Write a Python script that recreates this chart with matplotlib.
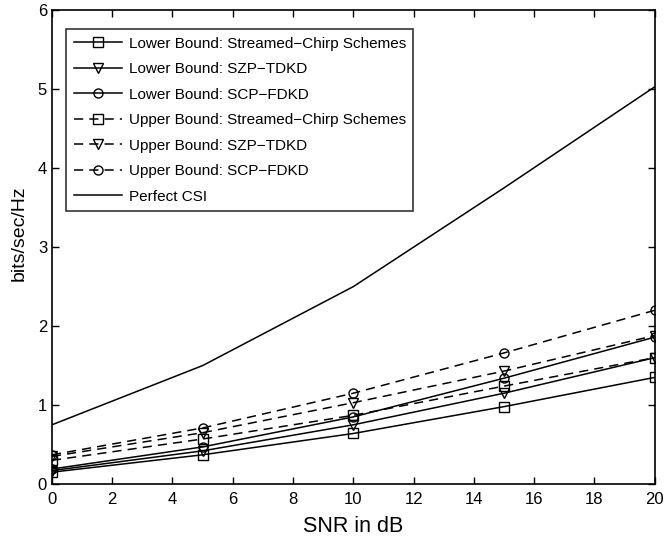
import matplotlib
matplotlib.use("Agg")
import matplotlib.pyplot as plt

plt.rcParams['font.family'] = ['Liberation Sans', 'DejaVu Sans']

snr = [0, 5, 10, 15, 20]
lower_sc = [0.15, 0.37, 0.64, 0.98, 1.35]
lower_szp = [0.17, 0.42, 0.75, 1.15, 1.60]
lower_scp = [0.19, 0.47, 0.85, 1.34, 1.86]
upper_sc = [0.30, 0.57, 0.87, 1.24, 1.60]
upper_szp = [0.35, 0.65, 1.03, 1.43, 1.88]
upper_scp = [0.37, 0.71, 1.15, 1.66, 2.20]
perfect = [0.75, 1.50, 2.50, 3.75, 5.03]

labels = [
    "Lower Bound: Streamed\u2212Chirp Schemes",
    "Lower Bound: SZP\u2212TDKD",
    "Lower Bound: SCP\u2212FDKD",
    "Upper Bound: Streamed\u2212Chirp Schemes",
    "Upper Bound: SZP\u2212TDKD",
    "Upper Bound: SCP\u2212FDKD",
    "Perfect CSI",
]

fig = plt.figure(figsize=(6.66, 5.39), dpi=100)
ax = fig.add_axes([0.078, 0.102, 0.905, 0.879])

kw = dict(color='black', lw=1.1, markersize=6.5, markerfacecolor='none', markeredgewidth=1.0)
ax.plot(snr, lower_sc, '-', marker='s', label=labels[0], **kw)
ax.plot(snr, lower_szp, '-', marker='v', label=labels[1], **kw)
ax.plot(snr, lower_scp, '-', marker='o', label=labels[2], **kw)
ax.plot(snr, upper_sc, '--', marker='s', label=labels[3], dashes=(6, 4), **kw)
ax.plot(snr, upper_szp, '--', marker='v', label=labels[4], dashes=(6, 4), **kw)
ax.plot(snr, upper_scp, '--', marker='o', label=labels[5], dashes=(6, 4), **kw)
ax.plot(snr, perfect, '-', color='black', lw=1.1, label=labels[6])

ax.set_xlim(0, 20)
ax.set_ylim(0, 6)
ax.set_xticks(range(0, 21, 2))
ax.set_yticks(range(0, 7))
ax.tick_params(direction='in', top=True, right=True, labelsize=12, length=5, width=1)
ax.tick_params(axis='x', pad=6)
for s in ax.spines.values():
    s.set_linewidth(1.2)
ax.set_xlabel("SNR in dB", fontsize=15.5, labelpad=6)
ax.set_ylabel("bits/sec/Hz", fontsize=14)
ax.yaxis.set_label_coords(-0.040, 0.53)

leg = ax.legend(loc='upper left', bbox_to_anchor=(0.0232, 0.96), borderaxespad=0,
                fontsize=11, frameon=True,
                fancybox=False, edgecolor='black', handlelength=3.2, labelspacing=0.75,
                borderpad=0.5, handletextpad=0.4)
leg.get_frame().set_linewidth(1.2)

fig.savefig("out.png", dpi=100)
